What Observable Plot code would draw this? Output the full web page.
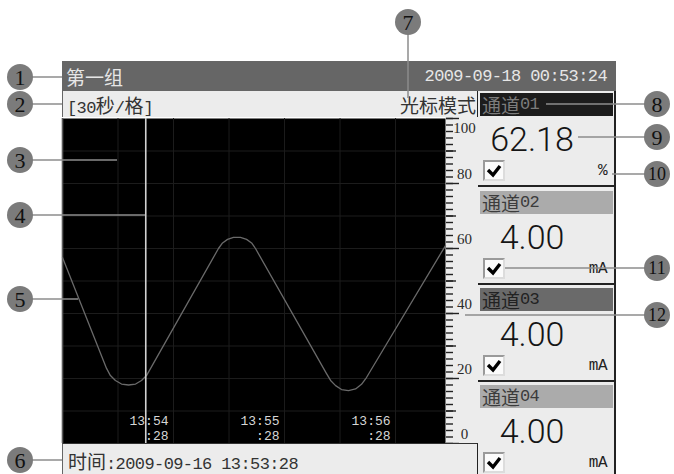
<!DOCTYPE html>
<html><head><meta charset="utf-8">
<script src="https://cdn.jsdelivr.net/npm/d3@7"></script>
<script src="https://cdn.jsdelivr.net/npm/@observablehq/plot@0.6"></script>
<style>
html,body{margin:0;padding:0;background:#fff;overflow:hidden;}
#root{position:relative;width:674px;height:474px;overflow:hidden;}
.abs{position:absolute;box-sizing:border-box;}
.lat{font-family:"Liberation Mono",monospace;font-size:17px;letter-spacing:-0.6px;}
.cjk{font-family:"Noto Sans CJK SC",sans-serif;font-size:19px;letter-spacing:0;}
.bar{display:flex;align-items:center;white-space:nowrap;}
</style></head><body><div id="root"></div>
<script>
// ---------- data ----------
const groupName = "第一组";
const clockText = "2009-09-18 00:53:24";
const scaleText = "[30秒/格]";
const modeText = "光标模式";
const cursorText = "时间:2009-09-16 13:53:28";
const startTime = "2009-09-16T13:53:28";
const spanSeconds = 207;
const gridSeconds = [0, 30, 60, 90, 120, 150, 180];
const gridValues = [10, 20, 30, 40, 50, 60, 70, 80, 90];
const minorTicks = [0,2,4,6,8,10,12,14,16,18,20,22,24,26,28,30,32,34,36,38,40,42,44,46,48,50,52,54,56,58,60,62,64,66,68,70,72,74,76,78,80,82,84,86,88,90,92,94,96,98,100];
const midTicks = [10, 30, 50, 70, 90];
const majorTicks = [0, 20, 40, 60, 80, 100];
const curveSeconds = [0, 23.8, 25.9, 28.6, 31.9, 35.7, 39.5, 42.7, 45.4, 84.3, 86.5, 89.2, 92.4, 96.2, 99.5, 102.2, 104.3, 142.7, 144.9, 147.6, 150.8, 154.6, 158.4, 161.6, 164.3, 207];
const curveValues  = [57.2, 23.1, 20.9, 19.4, 18.3, 18.0, 18.3, 19.4, 20.9, 60.0, 61.7, 62.8, 63.4, 63.4, 62.8, 61.7, 60.0, 21.5, 19.4, 17.8, 16.6, 16.3, 16.8, 18.2, 20.3, 60.9];
const timeLabels = ["13:54:28", "13:55:28", "13:56:28"];
const cursorTime = "13:54:13";
const channelNames = ["通道01", "通道02", "通道03", "通道04"];
const channelValues = ["62.18", "4.00", "4.00", "4.00"];
const channelUnits = ["%", "mA", "mA", "mA"];
const headerFills = ["#1c1c1c", "#ababab", "#6a6a6a", "#ababab"];
const headerInk = ["#7c7c7c", "#3c3c3c", "#222", "#3c3c3c"];
const calloutNumbers = [1,2,3,4,5,6,7,8,9,10,11,12];

// ---------- chart ----------
const day = startTime.slice(0, 11);
const t0 = new Date(startTime);
const sec = s => new Date(+t0 + s * 1000);
const curve = curveSeconds.map((s, i) => ({t: sec(s), v: curveValues[i]}));

const chart = Plot.plot({
  width: 674, height: 474,
  marginLeft: 62, marginRight: 229, marginTop: 118, marginBottom: 31,
  x: {type: "time", domain: [t0, sec(spanSeconds)], axis: null},
  y: {domain: [0, 100]},
  style: {background: "transparent", overflow: "visible", fontFamily: "'Liberation Serif', serif"},
  marks: [
    Plot.frame({fill: "#000", stroke: "none"}),
    Plot.ruleX(gridSeconds.map(sec), {stroke: "#1c1c1c", strokeWidth: 1}),
    Plot.ruleY(gridValues, {stroke: "#1c1c1c", strokeWidth: 1}),
    Plot.ruleX([t0], {stroke: "#5a5a5a", strokeWidth: 1.6}),
    Plot.line(curve, {x: "t", y: "v", stroke: "#6a6a6a", strokeWidth: 1.3, curve: "linear", strokeLinejoin: "round"}),
    Plot.ruleX([new Date(day + cursorTime)], {stroke: "#d2d2d2", strokeWidth: 1.6}),
    Plot.text(timeLabels, {
      x: d => new Date(day + d), text: d => d.slice(0, 5) + "\n" + d.slice(5),
      frameAnchor: "bottom", lineAnchor: "bottom", textAnchor: "end", dx: -5, dy: -4,
      fill: "#d6d6d6", fontSize: 13, fontFamily: "Liberation Mono", lineHeight: 1.15
    }),
    Plot.axisY({ticks: minorTicks, anchor: "right", tickSize: 7, tickFormat: () => "", stroke: "#222", strokeWidth: 1.4, label: null}),
    Plot.axisY({ticks: midTicks, anchor: "right", tickSize: 10, tickFormat: () => "", stroke: "#222", strokeWidth: 1.4, label: null}),
    Plot.axisY({ticks: majorTicks, anchor: "right", tickSize: 13, tickFormat: () => "", stroke: "#222", strokeWidth: 1.4, label: null}),
    Plot.text(majorTicks.filter(v => v < 100), {y: d => d, text: d => String(d), frameAnchor: "right", dx: 19, dy: -9, textAnchor: "middle", fill: "#2a2a2a", fontSize: 15}),
    Plot.text(majorTicks.filter(v => v === 100), {y: d => d, text: d => String(d), frameAnchor: "right", dx: 19, dy: 10, textAnchor: "middle", fill: "#2a2a2a", fontSize: 15})
  ]
});

// ---------- page chrome ----------
const root = document.getElementById("root");
function box(parent, css, html) {
  const d = document.createElement("div");
  d.className = "abs";
  d.style.cssText = css;
  if (html != null) d.innerHTML = html;
  parent.appendChild(d);
  return d;
}
function mixed(str) {
  return str.split(/([\u3000-\u303f\u4e00-\u9fff\uff00-\uffef]+)/).filter(s => s).map(s =>
    /[\u3000-\u303f\u4e00-\u9fff\uff00-\uffef]/.test(s) ? `<span class="cjk">${s}</span>` : `<span class="lat">${s}</span>`
  ).join("");
}

// axis strip background under the svg
box(root, "left:445px;top:117px;width:33px;height:326px;background:#ececec;");
chart.style.position = "absolute";
chart.style.left = "0px";
chart.style.top = "0px";
root.appendChild(chart);

// top bar
const topBar = box(root, "left:62px;top:61px;width:554px;height:30px;background:#666;color:#e6e6e6;padding:0 9px 0 4px;justify-content:space-between;");
topBar.classList.add("bar");
topBar.innerHTML = `<div>${mixed(groupName)}</div><div>${mixed(clockText)}</div>`;

// second bar
const subBar = box(root, "left:62px;top:91px;width:416px;height:26px;background:#ececec;color:#333;padding:0 1px 0 4px;justify-content:space-between;border-left:1.5px solid #666;border-right:1.5px solid #222;");
subBar.classList.add("bar");
subBar.innerHTML = `<div>${mixed(scaleText)}</div><div>${mixed(modeText)}</div>`;

// bottom bar
const botBar = box(root, "left:62px;top:443px;width:416px;height:31px;background:#ececec;color:#333;padding:2px 0 0 5px;border-top:1px solid #333;border-left:1.5px solid #666;border-right:1.5px solid #222;");
botBar.classList.add("bar");
botBar.innerHTML = `<div>${mixed(cursorText)}</div>`;

// right panel
const panel = box(root, "left:478px;top:91px;width:138px;height:383px;background:#ececec;border-right:2px solid #222;");
const blockTops = [2, 100, 197, 294];
channelNames.forEach((name, i) => {
  const y = blockTops[i];
  const h = box(panel, `left:2px;top:${y}px;width:133px;height:23px;background:${headerFills[i]};color:${headerInk[i]};padding-left:2px;`, mixed(name));
  h.classList.add("bar");
  box(panel, `left:0;top:${y + 30}px;width:108px;height:33px;line-height:33px;text-align:center;font-family:Roboto,'Liberation Sans',Arial,sans-serif;font-weight:300;font-size:34px;color:#151515;`, channelValues[i]);
  box(panel, `left:5px;top:${y + 67}px;width:22px;height:21px;background:#fbfbfb;border:2px solid;border-color:#9a9a9a #dcdcdc #dcdcdc #9a9a9a;`,
    `<svg width="18" height="17" style="position:absolute;left:0;top:0"><path d="M3,8 L8,13 L15,4" fill="none" stroke="#000" stroke-width="3.4" stroke-linejoin="miter"/></svg>`);
  box(panel, `right:7px;top:${y + 68}px;height:20px;line-height:20px;font-family:'Liberation Mono',monospace;font-size:16px;letter-spacing:-0.5px;color:#222;`, channelUnits[i]);
  if (i < channelNames.length - 1) box(panel, `left:0;top:${y + 92}px;width:136px;height:2px;background:#222;`);
});

// callouts (annotation layout)
const calloutLayout = [
  [20, 77, 62, 77], [20, 104, 62, 104], [20, 160, 117, 160], [20, 215, 145, 215],
  [20, 299, 78, 299], [20, 460, 62, 460], [408, 22, 408, 98], [657, 104, 546, 104],
  [657, 137, 578, 137], [657, 174, 612, 174], [657, 268, 505, 268], [657, 315, 465, 315]
];
const ov = d3.select(root).append("svg")
  .attr("width", 674).attr("height", 474)
  .style("position", "absolute").style("left", 0).style("top", 0).style("pointer-events", "none");
ov.selectAll("line").data(calloutLayout).join("line")
  .attr("x1", d => d[0]).attr("y1", d => d[1]).attr("x2", d => d[2]).attr("y2", d => d[3])
  .attr("stroke", "#8c8c8c").attr("stroke-width", 1.5);
const g = ov.selectAll("g").data(calloutLayout).join("g").attr("transform", d => `translate(${d[0]},${d[1]})`);
g.append("circle").attr("r", 13).attr("fill", "#7b7b7b");
g.append("text").text((d, i) => calloutNumbers[i])
  .attr("text-anchor", "middle").attr("dy", "0.35em")
  .attr("font-family", "'Liberation Serif', serif")
  .attr("font-size", (d, i) => calloutNumbers[i] >= 10 ? 18 : 22)
  .attr("fill", "#111");
</script></body></html>
